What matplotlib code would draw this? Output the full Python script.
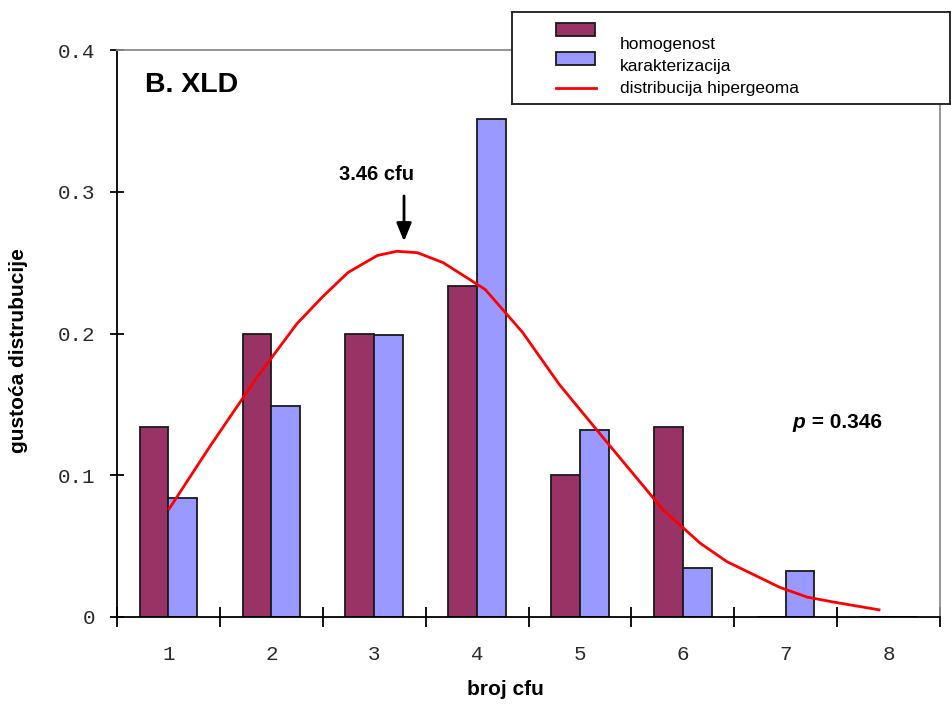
import matplotlib
matplotlib.use('Agg')
import matplotlib.pyplot as plt
import numpy as np
from matplotlib.patches import Rectangle
from matplotlib.lines import Line2D

# data
cats = [1, 2, 3, 4, 5, 6, 7, 8]
homogenost = [0.134, 0.200, 0.200, 0.2335, 0.100, 0.134, 0.0, 0.0]
karakterizacija = [0.084, 0.149, 0.199, 0.351, 0.132, 0.0346, 0.0325, 0.0]
curve_x = [1.0, 1.40, 1.86, 2.25, 2.50, 2.745, 3.03, 3.22, 3.42, 3.67, 3.93,
           4.08, 4.44, 4.80, 5.22, 5.81, 6.17, 6.43, 6.94, 7.21, 7.46, 7.92]
curve_y = [0.0755, 0.120, 0.169, 0.207, 0.226, 0.243, 0.255, 0.258, 0.257, 0.250, 0.238,
           0.231, 0.201, 0.164, 0.127, 0.0755, 0.052, 0.039, 0.021, 0.014, 0.0106, 0.0049]
yticks = [0, 0.1, 0.2, 0.3, 0.4]
ytick_labels = ['0', '0.1', '0.2', '0.3', '0.4']

W, H = 951, 704
fig = plt.figure(figsize=(W / 100, H / 100), dpi=100)
ax = fig.add_axes([117 / W, 1 - 617 / H, (940 - 117) / W, (617 - 50) / H])

sans = 'Liberation Sans'
mono = 'Liberation Mono'

x = np.array(cats, dtype=float)
bw = 0.28
ax.bar(x - bw / 2, homogenost, width=bw, color='#993366', edgecolor='#1a1a1a', lw=1.3, zorder=2)
ax.bar(x + bw / 2, karakterizacija, width=bw, color='#9999ff', edgecolor='#1a1a1a', lw=1.3, zorder=2)
ax.plot(curve_x, curve_y, color='#ff0000', lw=2.0, zorder=3, solid_capstyle='butt')

ax.set_xlim(0.5, 8.5)
ax.set_ylim(0, 0.4)

# spines
for s in ['top', 'right']:
    ax.spines[s].set_color('#8c8c8c')
    ax.spines[s].set_linewidth(1.3)
for s in ['left', 'bottom']:
    ax.spines[s].set_color('black')
    ax.spines[s].set_linewidth(1.3)

ax.set_yticks(yticks)
ax.set_yticklabels(ytick_labels, fontfamily=mono, fontsize=15, color='#2a2a2a')
ax.tick_params(axis='y', direction='inout', length=10, width=1.3, pad=11)

ax.set_xticks(np.arange(0.5, 9.0, 1.0))
ax.set_xticklabels([])
ax.set_xticks(x, minor=True)
ax.set_xticklabels([str(c) for c in cats], minor=True, fontfamily=mono, fontsize=15, color='#2a2a2a')
ax.tick_params(axis='x', which='major', direction='inout', length=14, width=1.3)
ax.tick_params(axis='x', which='minor', length=0, pad=20)

ax.set_xlabel('broj cfu', fontfamily=sans, fontweight='bold', fontsize=15)
ax.xaxis.set_label_coords(0.472, -0.111)
ax.set_ylabel('gustoća distrubucije', fontfamily=sans, fontweight='bold', fontsize=15)
ax.yaxis.set_label_coords(-0.108, 0.47)

# annotations
ax.text(0.77, 0.375, 'B. XLD', fontfamily=sans, fontweight='bold', fontsize=20.5, va='center')
ax.text(3.02, 0.312, '3.46 cfu', fontfamily=sans, fontweight='bold', fontsize=14.5,
        ha='center', va='center')
ax.annotate('', xy=(3.29, 0.263), xytext=(3.29, 0.299),
            arrowprops=dict(arrowstyle='-|>,head_length=1.1,head_width=0.45', color='black', lw=2))
tp = ax.text(7.07, 0.137, 'p', fontfamily=sans, fontweight='bold', style='italic',
             fontsize=15, va='center')
ax.annotate(' = 0.346', xy=(1, 0), xycoords=tp, va='bottom', fontfamily=sans,
            fontweight='bold', fontsize=15)

# legend box drawn in pixel units
lx0, ly0, lx1, ly1 = 512, 12, 950, 104
lax = fig.add_axes([lx0 / W, 1 - ly1 / H, (lx1 - lx0) / W, (ly1 - ly0) / H])
lax.set_xlim(0, lx1 - lx0)
lax.set_ylim(ly1 - ly0, 0)
lax.set_xticks([])
lax.set_yticks([])
lax.set_facecolor('white')
for s in lax.spines.values():
    s.set_color('#1a1a1a')
    s.set_linewidth(1.3)
lax.add_patch(Rectangle((44, 11), 39, 13, facecolor='#993366', edgecolor='#1a1a1a', lw=1.3))
lax.add_patch(Rectangle((44, 40), 39, 13, facecolor='#9999ff', edgecolor='#1a1a1a', lw=1.3))
lax.add_line(Line2D([44, 84], [76, 76], color='#ff0000', lw=2.0))
# the original cuts the legend text off just above the bottom border
clip = Rectangle((0, 0), lx1 - lx0, 80, transform=lax.transData, visible=False)
lax.add_patch(clip)
leg_labels = ['homogenost', 'karakterizacija', 'distribucija hipergeoma']
leg_y = [33, 55, 76]
for lab, ty in zip(leg_labels, leg_y):
    t = lax.text(108, ty, lab, fontfamily=sans, fontsize=12.5, va='center')
    t.set_clip_path(clip)

fig.savefig('out.png', dpi=100)
